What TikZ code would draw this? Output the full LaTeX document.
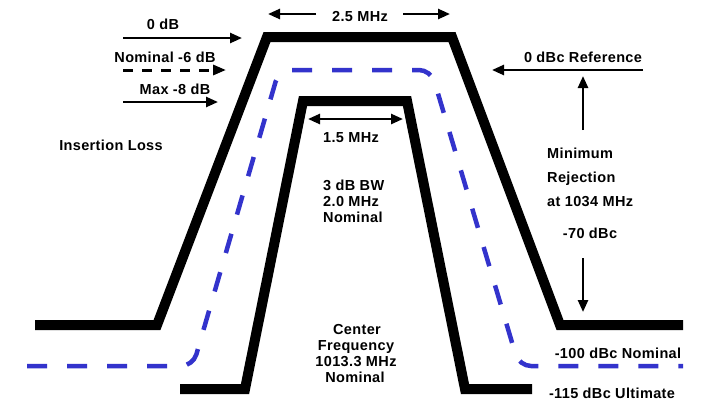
\documentclass[tikz,border=0pt]{standalone}
\usepackage{fontspec}
\setmainfont[LetterSpace=2.5]{Liberation Sans}
\usetikzlibrary{arrows.meta}
\definecolor{tblue}{RGB}{51,51,204}
\begin{document}
\begin{tikzpicture}[x=1pt,y=-1pt,
  lbl/.style={font=\bfseries\fontsize{14.5}{16}\selectfont, inner sep=0pt},
  trace/.style={line width=10pt},
  dtrace/.style={line width=4.5pt, draw=tblue, dash pattern=on 20pt off 20pt, rounded corners=12pt},
  arr/.style={line width=2.5pt, -{Triangle[length=12pt,width=10pt]}},
  darr/.style={line width=2.5pt, {Triangle[length=12pt,width=10pt]}-{Triangle[length=12pt,width=10pt]}},
  dasharr/.style={line width=3pt, dash pattern=on 10pt off 9pt, -{Triangle[length=13pt,width=10pt]}},
]
\useasboundingbox[fill=white] (0,0) rectangle (711,413);

% blue nominal response
\coordinate (b1) at (27,366);
\coordinate (b2) at (193,366);
\coordinate (b3) at (279,70);
\coordinate (b4) at (431,70);
\coordinate (b5) at (519,366);
\coordinate (b6) at (683,366);
\draw[dtrace] (b1) -- (b2) -- (b3) -- (b4) -- (b5) -- (b6);

% outer black trace
\coordinate (o1) at (35,325);
\coordinate (o2) at (157,325);
\coordinate (o3) at (267,37);
\coordinate (o4) at (452,37);
\coordinate (o5) at (560,325);
\coordinate (o6) at (683,325);
\draw[trace] (o1) -- (o2) -- (o3) -- (o4) -- (o5) -- (o6);

% inner black trace
\coordinate (i1) at (180,389);
\coordinate (i2) at (245,389);
\coordinate (i3) at (303,101);
\coordinate (i4) at (407,101);
\coordinate (i5) at (465,389);
\coordinate (i6) at (532,389);
\draw[trace] (i1) -- (i2) -- (i3) -- (i4) -- (i5) -- (i6);

% labels
\node[lbl, anchor=base] (t25) at (360,21.5) {2.5 MHz};
\node[lbl, anchor=base] (t0db) at (163,29) {0 dB};
\node[lbl, anchor=base] (tnom) at (165,62) {Nominal -6 dB};
\node[lbl, anchor=base] (tmax) at (175,94) {Max -8 dB};
\node[lbl, anchor=base] (tins) at (111,150) {Insertion Loss};
\node[lbl, anchor=base] (t15) at (351,142) {1.5 MHz};
\node[lbl, anchor=base west] (tbw1) at (323,190) {3 dB BW};
\node[lbl, anchor=base west] (tbw2) at (323,206) {2.0 MHz};
\node[lbl, anchor=base west] (tbw3) at (323,222) {Nominal};
\node[lbl, anchor=base] (tref) at (583,62) {0 dBc Reference};
\node[lbl, anchor=base west] (tmin1) at (547,158) {Minimum};
\node[lbl, anchor=base west] (tmin2) at (547,182) {Rejection};
\node[lbl, anchor=base west] (tmin3) at (547,206) {at 1034 MHz};
\node[lbl, anchor=base] (t70) at (590,238) {-70 dBc};
\node[lbl, anchor=base] (t100) at (618,358) {-100 dBc Nominal};
\node[lbl, anchor=base] (t115) at (612,398) {-115 dBc Ultimate};
\node[lbl, anchor=base] (tc1) at (357,334) {Center};
\node[lbl, anchor=base] (tc2) at (356,350) {Frequency};
\node[lbl, anchor=base] (tc3) at (356,366) {1013.3 MHz};
\node[lbl, anchor=base] (tc4) at (355,382) {Nominal};

% arrows
\coordinate (a25l1) at (316,14);
\coordinate (a25l2) at (268,14);
\coordinate (a25r1) at (403,14);
\coordinate (a25r2) at (450,14);
\draw[arr] (a25l1) -- (a25l2);
\draw[arr] (a25r1) -- (a25r2);

\coordinate (a0s) at (123,38);
\coordinate (a0e) at (242,38);
\draw[arr] (a0s) -- (a0e);
\coordinate (a6s) at (123,70);
\coordinate (a6e) at (226,70);
\draw[dasharr] (a6s) -- (a6e);
\coordinate (a8s) at (123,102);
\coordinate (a8e) at (218,102);
\draw[arr] (a8s) -- (a8e);

\coordinate (a15s) at (308,119);
\coordinate (a15e) at (403,119);
\draw[darr] (a15s) -- (a15e);

\coordinate (arefs) at (643,70);
\coordinate (arefe) at (492,70);
\draw[arr] (arefs) -- (arefe);
\coordinate (aups) at (583,130);
\coordinate (aupe) at (583,76);
\draw[arr] (aups) -- (aupe);
\coordinate (adns) at (583,258);
\coordinate (adne) at (583,312);
\draw[arr] (adns) -- (adne);
\end{tikzpicture}
\end{document}
